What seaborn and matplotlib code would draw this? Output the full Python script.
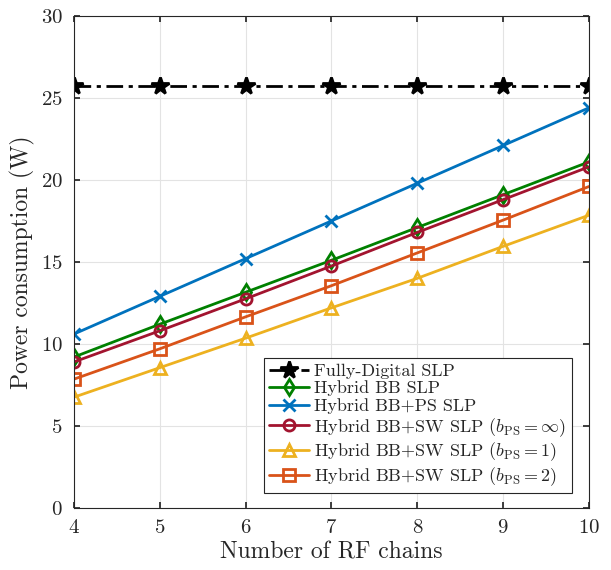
import numpy as np
import pandas as pd
import seaborn as sns
import matplotlib.pyplot as plt

# Data
rf_chains = [4, 5, 6, 7, 8, 9, 10]
fully_digital = [25.7, 25.7, 25.7, 25.7, 25.7, 25.7, 25.7]
hybrid_bb = [9.2, 11.2, 13.15, 15.1, 17.1, 19.1, 21.1]
hybrid_bb_ps = [10.6, 12.9, 15.2, 17.5, 19.8, 22.1, 24.4]
hybrid_sw_inf = [8.9, 10.8, 12.75, 14.75, 16.8, 18.8, 20.8]
hybrid_sw_1 = [6.75, 8.55, 10.35, 12.2, 14.0, 15.95, 17.85]
hybrid_sw_2 = [7.85, 9.7, 11.65, 13.55, 15.55, 17.55, 19.6]

series = [
    ("Fully-Digital SLP", fully_digital, "black", "*", (0, (6, 2, 1.5, 2)), 13, "black"),
    ("Hybrid BB SLP", hybrid_bb, "#008000", "d", "-", 8, "none"),
    ("Hybrid BB+PS SLP", hybrid_bb_ps, "#0072BD", "x", "-", 9, "none"),
    (r"Hybrid BB+SW SLP ($b_{\rm PS}=\infty$)", hybrid_sw_inf, "#A2142F", "o", "-", 8, "none"),
    (r"Hybrid BB+SW SLP ($b_{\rm PS}=1$)", hybrid_sw_1, "#EDB120", "^", "-", 8, "none"),
    (r"Hybrid BB+SW SLP ($b_{\rm PS}=2$)", hybrid_sw_2, "#D95319", "s", "-", 8, "none"),
]

sns.set_theme(style="whitegrid")
plt.rcParams["font.family"] = ["serif"]
plt.rcParams["font.serif"] = ["cmr10", "DejaVu Serif"]
plt.rcParams["mathtext.fontset"] = "cm"
plt.rcParams["axes.formatter.use_mathtext"] = True

f, ax = plt.subplots(figsize=(6.11, 5.7), dpi=100)
f.subplots_adjust(left=0.121, right=0.964, bottom=0.109, top=0.972)

for label, values, color, marker, ls, ms, mfc in series:
    df = pd.DataFrame({"x": rf_chains, "y": values})
    sns.lineplot(data=df, x="x", y="y", ax=ax, color=color, marker=marker,
                 linestyle=ls, linewidth=2, markersize=ms, label=label,
                 markerfacecolor=mfc, markeredgecolor=color, markeredgewidth=2)

ax.set_xlim(4, 10)
ax.set_ylim(0, 30)
ax.set_xticks(range(4, 11))
ax.set_yticks(range(0, 31, 5))
ax.set_xlabel("Number of RF chains", fontsize=17, color="#262626", labelpad=3)
ax.set_ylabel("Power consumption (W)", fontsize=17, color="#262626", labelpad=4)
ax.tick_params(labelsize=15, colors="#262626", direction="in", length=4, pad=8,
               bottom=True, left=True, top=True, right=True)
ax.grid(True, color="#e3e3e3", linewidth=0.8)
ax.set_facecolor("white")
for s in ax.spines.values():
    s.set_color("#262626")
    s.set_linewidth(0.8)

leg = ax.legend(loc="lower right", bbox_to_anchor=(0.967, 0.03), fontsize=13,
                frameon=True, fancybox=False, handlelength=2.2, handletextpad=0.3,
                borderpad=0.3, labelspacing=0.1, borderaxespad=0)
leg.get_frame().set_edgecolor("#262626")
leg.get_frame().set_linewidth(0.8)
leg.get_frame().set_alpha(1)

plt.savefig("out.png", dpi=100)
